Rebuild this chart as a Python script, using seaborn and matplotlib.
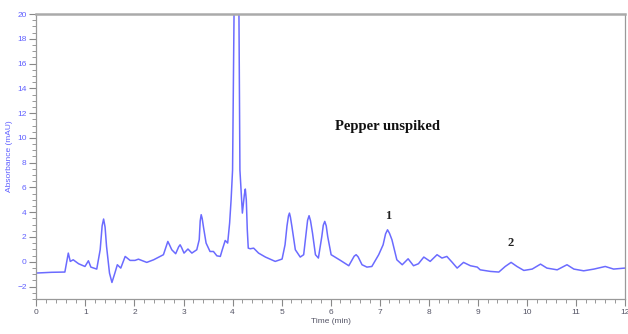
import seaborn as sns
import matplotlib.pyplot as plt
import matplotlib.ticker as mticker
import pandas as pd

# Chromatogram trace (time in min, absorbance in mAU)
time_min = [0.00, 0.14, 0.31, 0.58, 0.65, 0.69, 0.75, 0.86, 0.99, 1.06, 1.11, 1.23,
            1.30, 1.34, 1.37, 1.40, 1.43, 1.49, 1.54, 1.60, 1.65, 1.72, 1.81, 1.91,
            2.01, 2.08, 2.25, 2.39, 2.52, 2.59, 2.65, 2.68, 2.71, 2.76, 2.84, 2.90,
            2.93, 2.96, 3.01, 3.09, 3.17, 3.27, 3.32, 3.34, 3.36, 3.38, 3.41, 3.46,
            3.54, 3.61, 3.68, 3.75, 3.79, 3.85, 3.90, 3.94, 3.97, 4.00, 4.03, 4.08,
            4.13, 4.15, 4.20, 4.24, 4.26, 4.28, 4.30, 4.32, 4.36, 4.43, 4.53, 4.67,
            4.87, 5.01, 5.07, 5.11, 5.14, 5.16, 5.18, 5.21, 5.28, 5.38, 5.45, 5.50,
            5.53, 5.56, 5.59, 5.63, 5.69, 5.75, 5.82, 5.85, 5.88, 5.91, 5.94, 6.01,
            6.09, 6.20, 6.37, 6.48, 6.52, 6.56, 6.64, 6.74, 6.84, 6.98, 7.07, 7.12,
            7.16, 7.20, 7.25, 7.35, 7.46, 7.58, 7.69, 7.79, 7.90, 8.03, 8.17, 8.27,
            8.37, 8.48, 8.58, 8.71, 8.85, 8.99, 9.05, 9.26, 9.43, 9.56, 9.68, 9.80,
            9.94, 10.11, 10.28, 10.41, 10.62, 10.82, 10.96, 11.16, 11.37, 11.60,
            11.77, 12.00]
absorbance = [-0.91, -0.88, -0.85, -0.83, 0.70, 0.03, 0.16, -0.16, -0.38, 0.08, -0.43, -0.59,
              0.97, 2.90, 3.45, 2.80, 1.24, -0.91, -1.67, -0.91, -0.24, -0.51, 0.43, 0.11,
              0.11, 0.21, -0.05, 0.16, 0.43, 0.57, 1.30, 1.64, 1.40, 0.97, 0.65, 1.20,
              1.37, 1.15, 0.70, 1.03, 0.70, 0.97, 1.78, 3.30, 3.80, 3.50, 2.72, 1.51,
              0.83, 0.83, 0.48, 0.43, 0.97, 1.72, 1.51, 3.13, 5.00, 7.40, 20.0, 27.0,
              20.0, 7.40, 3.93, 5.40, 5.87, 5.00, 2.60, 1.10, 1.05, 1.10, 0.70, 0.38,
              0.03, 0.22, 1.37, 2.90, 3.70, 3.93, 3.60, 2.85, 0.97, 0.38, 0.57, 2.32,
              3.35, 3.72, 3.30, 2.32, 0.57, 0.30, 2.04, 2.95, 3.26, 2.90, 2.04, 0.57,
              0.38, 0.11, -0.32, 0.45, 0.57, 0.40, -0.24, -0.43, -0.38, 0.57, 1.37, 2.25,
              2.58, 2.30, 1.78, 0.16, -0.24, 0.24, -0.32, -0.16, 0.38, 0.03, 0.57, 0.30,
              0.43, -0.05, -0.51, -0.05, -0.32, -0.43, -0.65, -0.78, -0.83, -0.38, -0.05, -0.38,
              -0.70, -0.59, -0.19, -0.51, -0.65, -0.24, -0.59, -0.73, -0.59, -0.38,
              -0.59, -0.51]

peak_labels = ["1", "2"]
peak_x = [7.17, 9.67]
peak_y = [3.66, 1.51]

df = pd.DataFrame({"Time (min)": time_min, "Absorbance (mAU)": absorbance})

sns.set_theme(style="white")
plt.rcParams['font.family'] = ['Liberation Sans', 'DejaVu Sans']

fig = plt.figure(figsize=(6.28, 3.34), dpi=100)
ax = fig.add_axes([0.058, 0.105, 0.937, 0.853])

sns.lineplot(data=df, x="Time (min)", y="Absorbance (mAU)", ax=ax,
             color='#6b6bff', linewidth=1.1)

ax.set_xlim(0, 12)
ax.set_ylim(-3, 20)
ax.xaxis.set_major_locator(mticker.MultipleLocator(1))
ax.xaxis.set_minor_locator(mticker.MultipleLocator(0.2))
ax.yaxis.set_major_locator(mticker.MultipleLocator(2))
ax.yaxis.set_minor_locator(mticker.MultipleLocator(0.5))
ax.tick_params(axis='both', which='major', direction='out', length=5, width=0.8,
               color='#888888', labelsize=6, pad=2)
ax.tick_params(axis='both', which='minor', direction='out', length=3, width=0.6,
               color='#888888')
ax.tick_params(axis='y', labelcolor='#6060ff')
ax.tick_params(axis='x', labelcolor='#555566')
ax.tick_params(bottom=True, left=True, which='both')

for side in ['left', 'bottom', 'right']:
    ax.spines[side].set_color('#999999')
    ax.spines[side].set_linewidth(0.9)
ax.spines['top'].set_color('#aaaaaa')
ax.spines['top'].set_linewidth(1.8)

ax.set_xlabel("Time (min)", fontsize=6, color='#555566', labelpad=2)
ax.set_ylabel("Absorbance (mAU)", fontsize=6, color='#6060ff', labelpad=3)

for lab, x, y in zip(peak_labels, peak_x, peak_y):
    ax.text(x, y, lab, ha='center', va='center', fontsize=9, fontweight='bold',
            family=['Liberation Serif', 'DejaVu Serif'], color='#222222')

ax.text(7.15, 10.9, "Pepper unspiked", ha='center', va='center', fontsize=10.5,
        fontweight='bold', family=['Liberation Serif', 'DejaVu Serif'], color='#111111')

fig.savefig("out.png", dpi=100)
